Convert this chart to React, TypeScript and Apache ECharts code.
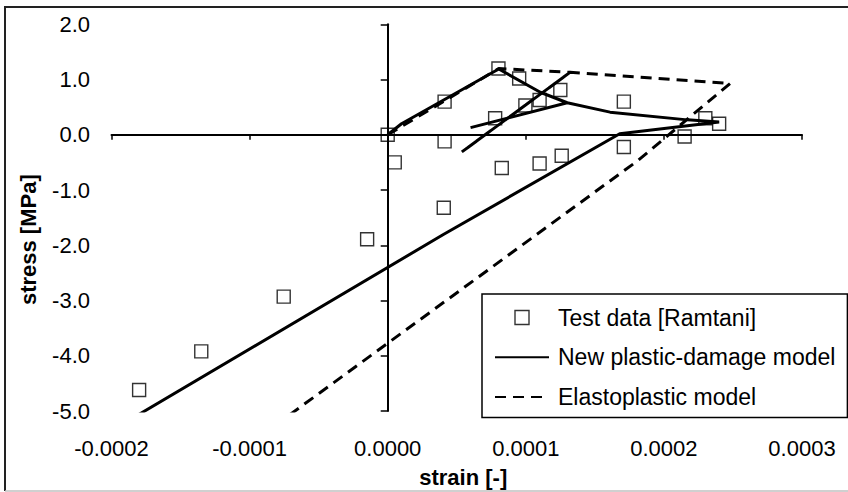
import React, { useEffect, useRef } from 'react';
import * as echarts from 'echarts';

// Axis ranges / ticks
const strainMin = -0.0002;
const strainMax = 0.0003;
const strainStep = 0.0001;
const stressMin = -5;
const stressMax = 2;
const stressStep = 1;

// Test data [Ramtani]
const testStrain = [
  0, 0.0000051, -0.0000149, -0.0000753, -0.000135, -0.00018,
  0.0000412, 0.0000802, 0.0000952, 0.000125, 0.00011, 0.0000997, 0.0000778,
  0.000171, 0.00023, 0.00024, 0.0000412, 0.000171, 0.000215,
  0.0000826, 0.00011, 0.000126, 0.0000406,
];
const testStress = [
  0, -0.5, -1.89, -2.93, -3.92, -4.62,
  0.6, 1.2, 1.02, 0.81, 0.63, 0.53, 0.3,
  0.6, 0.3, 0.2, -0.12, -0.22, -0.03,
  -0.6, -0.52, -0.38, -1.32,
];

// New plastic-damage model
const damageStrain = [
  0, 0.00001, 0.0000804, 0.0001105, 0.00013, 0.00006, 0.00013,
  0.000161, 0.000217, 0.00024, 0.000168, 0.00004, -0.00018,
];
const damageStress = [
  0, 0.2, 1.19, 0.77, 0.58, 0.13, 0.58,
  0.41, 0.27, 0.23, 0.02, -1.81, -5.06,
];

// Elastoplastic model
const elastoStrain = [
  0, 0.0000804, 0.000132, 0.0000537, 0.000132, 0.000248, 0.000181, -0.0000705,
];
const elastoStress = [
  0, 1.2, 1.13, -0.31, 1.13, 0.93, -0.47, -5.06,
];

const seriesNames = ['Test data [Ramtani]', 'New plastic-damage model', 'Elastoplastic model'];

const FONT = '"Liberation Sans", Arial, sans-serif';

const zip = (xs: number[], ys: number[]) => xs.map((x, i) => [x, ys[i]]);

export default function App() {
  const ref = useRef<HTMLDivElement>(null);

  useEffect(() => {
    if (!ref.current) return;
    const chart = echarts.init(ref.current, null, { renderer: 'svg' });
    const gridBox = { left: 111.5, right: 46, top: 24.3, bottom: 81, outerBoundsMode: 'none' };
    const fmtX = (v: number) => (Math.abs(v) < 1e-12 ? '0.0000' : v.toFixed(4));
    const fmtY = (v: number) => (Math.abs(v) < 1e-9 ? '0.0' : v.toFixed(1));
    const option: any = {
      animation: false,
      backgroundColor: '#fff',
      textStyle: { fontFamily: FONT },
      grid: [{ ...gridBox }, { ...gridBox }],
      xAxis: [
        {
          gridIndex: 0, type: 'value', min: strainMin, max: strainMax, interval: strainStep,
          axisLine: { show: true, onZero: true, lineStyle: { color: '#000', width: 2 } },
          axisTick: { show: true, length: 5, lineStyle: { color: '#000', width: 1.5 } },
          axisLabel: { show: false }, splitLine: { show: false },
        },
        {
          gridIndex: 1, type: 'value', min: strainMin, max: strainMax, interval: strainStep,
          axisLine: { show: false, onZero: false }, axisTick: { show: false }, splitLine: { show: false },
          axisLabel: {
            show: true, margin: 26, fontSize: 22, color: '#000', fontFamily: FONT,
            formatter: fmtX, showMinLabel: true, showMaxLabel: true,
          },
          name: 'strain [-]', nameLocation: 'middle', nameGap: 55,
          nameTextStyle: { fontWeight: 'bold', fontSize: 22, color: '#000', fontFamily: FONT, padding: [0, 0, 0, 13] },
        },
      ],
      yAxis: [
        {
          gridIndex: 0, type: 'value', min: stressMin, max: stressMax, interval: stressStep,
          axisLine: { show: true, onZero: true, lineStyle: { color: '#000', width: 2 } },
          axisTick: { show: true, length: 7, lineStyle: { color: '#000', width: 1.5 } },
          axisLabel: { show: false }, splitLine: { show: false },
        },
        {
          gridIndex: 1, type: 'value', min: stressMin, max: stressMax, interval: stressStep,
          axisLine: { show: false, onZero: false }, axisTick: { show: false }, splitLine: { show: false },
          axisLabel: {
            show: true, margin: 21.5, fontSize: 22, color: '#000', fontFamily: FONT,
            formatter: fmtY, showMinLabel: true, showMaxLabel: true,
          },
          name: 'stress [MPa]', nameLocation: 'middle', nameGap: 72,
          nameTextStyle: { fontWeight: 'bold', fontSize: 22, color: '#000', fontFamily: FONT, padding: [0, 44, 0, 0] },
        },
      ],
      legend: {
        orient: 'vertical', left: 482, top: 294,
        padding: [12, 12, 9, 12],
        itemWidth: 54, itemHeight: 14, itemGap: 16.8,
        symbolKeepAspect: true,
        borderColor: '#000', borderWidth: 1.5, borderRadius: 0, backgroundColor: '#fff',
        textStyle: { fontSize: 23, color: '#000', fontFamily: FONT, padding: [0, 0, 0, 4] },
        data: [
          {
            name: seriesNames[0],
            icon: 'path://M0,0h13v13h-13z',
            itemStyle: { color: 'transparent', borderColor: '#000', borderWidth: 1.4 },
          },
          { name: seriesNames[1], itemStyle: { color: 'transparent', borderColor: 'transparent', borderWidth: 0, opacity: 0 } },
          { name: seriesNames[2], itemStyle: { color: 'transparent', borderColor: 'transparent', borderWidth: 0, opacity: 0 } },
        ],
      },
      graphic: [
        { type: 'polyline', silent: true, shape: { points: [[5, 491], [5, 7], [848, 7]] }, style: { stroke: '#222', lineWidth: 2, fill: 'none' } },
        { type: 'line', silent: true, shape: { x1: 5, y1: 491, x2: 848, y2: 491 }, style: { stroke: '#c0c0c0', lineWidth: 1.5 } },
      ],
      series: [
        {
          name: seriesNames[0], type: 'scatter', xAxisIndex: 0, yAxisIndex: 0,
          data: zip(testStrain, testStress),
          symbol: 'rect', symbolSize: 13,
          itemStyle: { color: 'transparent', borderColor: '#000', borderWidth: 1.4 },
          z: 2,
        },
        {
          name: seriesNames[1], type: 'line', xAxisIndex: 0, yAxisIndex: 0,
          data: zip(damageStrain, damageStress),
          symbol: 'none', showSymbol: false, clip: true,
          lineStyle: { color: '#000', width: 3, type: 'solid' },
          itemStyle: { color: '#000' },
          z: 3,
        },
        {
          name: seriesNames[2], type: 'line', xAxisIndex: 0, yAxisIndex: 0,
          data: zip(elastoStrain, elastoStress),
          symbol: 'none', showSymbol: false, clip: true,
          lineStyle: { color: '#000', width: 3, type: [11, 7] },
          itemStyle: { color: '#000' },
          z: 3,
        },
      ],
    };
    chart.setOption(option);
    return () => chart.dispose();
  }, []);

  return (
    <div
      ref={ref}
      style={{ position: 'fixed', left: 0, top: 0, width: 848, height: 492, background: '#fff' }}
    />
  );
}
